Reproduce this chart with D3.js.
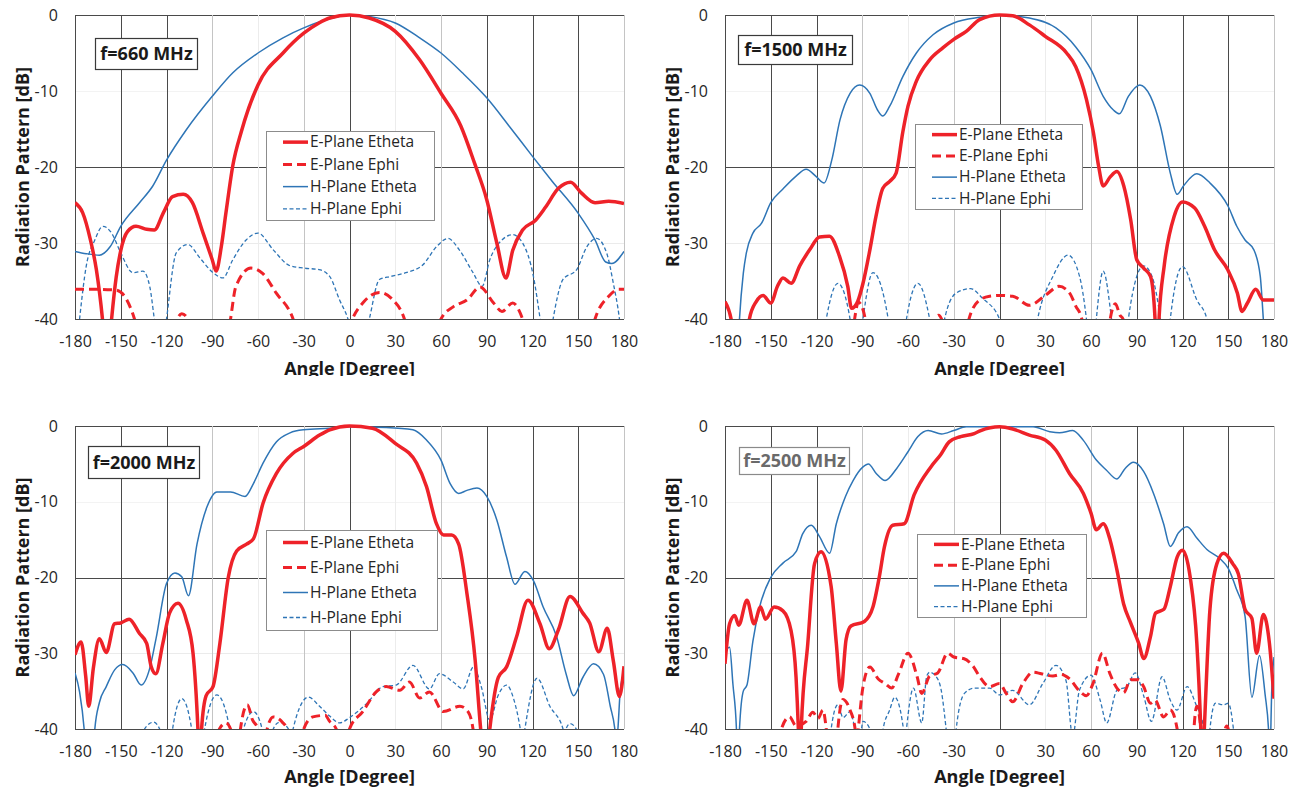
<!DOCTYPE html>
<html>
<head>
<meta charset="utf-8">
<script src="https://cdn.jsdelivr.net/npm/d3@7"></script>
<style>
  body { margin: 0; background: #fff; }
  svg { display: block; }
  text { font-family: "Open Sans", sans-serif; }
</style>
</head>
<body>
<svg id="chart" width="1297" height="790"></svg>
<script>
"use strict";

// [angle in degrees, level in dB]; values below -40 only mark where a curve leaves the plot
var eTheta660 = [[-180,-24.7],[-175,-26],[-170,-29.5],[-166,-33.5],[-162,-40],[-159,-47],[-156,-40],[-153,-34.5],[-150,-31],[-145.6,-28.5],[-140,-27.8],[-133,-28.2],[-128,-28.3],[-122,-26],[-116,-23.9],[-109,-23.6],[-103,-24.7],[-96,-28.7],[-90,-32.2],[-87.5,-33.7],[-84,-30.4],[-81,-26],[-76.5,-19.8],[-71,-15.4],[-60,-9.2],[-43.6,-5],[-30,-2.4],[-20,-1.05],[-13,-0.4],[0,0],[13,-0.4],[30,-2.15],[46,-5.9],[60,-10.3],[73,-14.6],[82,-19.5],[90,-24.3],[96.6,-30],[102.6,-34.6],[107,-31],[113.5,-28.3],[122,-27],[128.5,-25.3],[137,-22.8],[145,-22],[152,-23.4],[161,-24.7],[170,-24.5],[180,-24.8]];
var ePhi660 = [[-180,-36.1],[-165,-36.1],[-153,-36.2],[-146,-37.5],[-141,-40],[-135,-45],[-120,-45],[-113,-40],[-110,-39.3],[-106,-40],[-100,-45],[-82,-45],[-78,-40],[-74.5,-35.7],[-64.6,-33.3],[-57,-34],[-48,-36.6],[-37,-40],[-30,-45],[-5,-45],[2,-40],[8.7,-37.9],[19.6,-36.5],[28.5,-37.5],[36,-40],[42,-45],[54,-45],[60,-40],[68,-38.4],[77,-37.5],[85.6,-35.8],[94.5,-37.9],[100,-39],[107,-37.9],[113.5,-40],[120,-45],[155,-45],[161,-40],[170,-37],[176.6,-36.1],[180,-36.1]];
var hTheta660 = [[-180,-31.1],[-172.6,-31.4],[-164,-31.6],[-157,-30.5],[-150,-27.8],[-137.7,-24.7],[-129,-22.5],[-120,-19.1],[-107,-15.1],[-90,-10.7],[-76.5,-7.6],[-60,-5],[-43.6,-3],[-30,-1.7],[-13,-0.5],[0,0],[13,-0.2],[30,-1.05],[46,-3],[60,-5],[74,-7.6],[90,-10.9],[105,-14.7],[120,-18.6],[133,-21.9],[150,-26.1],[161,-29.6],[168,-32.5],[172,-32.7],[180,-31.1]];
var hPhi660 = [[-180,-46],[-177,-40],[-172.6,-33],[-167,-29.6],[-161.7,-27.8],[-156,-28.7],[-150,-31.3],[-142,-33.9],[-135.5,-33.7],[-131,-35.7],[-128,-40],[-124,-46],[-120,-40],[-113.6,-31.3],[-106,-30.2],[-98,-32],[-89.5,-33.9],[-83,-34.6],[-76.5,-32.2],[-67.8,-29.6],[-60,-28.7],[-50,-30.9],[-39,-33],[-30,-33.3],[-20,-33.5],[-13,-34.4],[-6.5,-37.5],[-1,-40],[6,-46],[13,-40],[19.6,-34.8],[27,-34.4],[37,-33.9],[48,-32.9],[57,-30.5],[64.6,-29.4],[72,-30.9],[81,-33.9],[87,-35.7],[92,-32.2],[99,-29.8],[107,-28.9],[113.5,-30],[120.6,-34.4],[125,-40],[129,-46],[133.5,-40],[140,-34.8],[149,-33.5],[155.6,-30.5],[162,-29.4],[168.6,-31.3],[173,-35.3],[177,-40],[180,-46]];

var eTheta1500 = [[-180,-37.7],[-176,-40],[-172,-46],[-168,-46],[-164,-40],[-159.5,-37.7],[-155,-36.9],[-150,-37.9],[-145.6,-35.7],[-142,-34.6],[-136.6,-35.3],[-131,-33],[-124.5,-30.9],[-118,-29.2],[-111.5,-29.1],[-105,-31.7],[-99.5,-35.7],[-97,-38.6],[-93,-37.7],[-89.5,-35.3],[-85,-30.9],[-81,-26.5],[-76.5,-22.8],[-72,-21.9],[-67.8,-20.8],[-63.4,-15.4],[-60,-12],[-54.5,-8.7],[-45.8,-5.9],[-37,-4.3],[-30,-3.2],[-21.8,-2.15],[-13,-0.6],[0,0],[8.7,-0.1],[19.6,-1.3],[30,-2.8],[44,-5],[50,-6.8],[57,-11.1],[61.6,-15.5],[65,-19.9],[68,-22.5],[72.6,-21.3],[77,-20.6],[81.5,-22.5],[86,-26.9],[90,-32.2],[94.5,-33.3],[99,-34.4],[102,-40],[103.3,-46],[104.6,-40],[108,-33],[114.5,-26.5],[120,-24.6],[128,-25.4],[134.5,-27.8],[141,-30.9],[149.6,-33.5],[156,-36.6],[159,-39],[162.6,-37.9],[168,-36.1],[173,-37.5],[180,-37.5]];
var ePhi1500 = [[-180,-46],[-98,-46],[-95,-40],[-92.5,-37.8],[-88,-40],[-85,-46],[-45,-46],[-42,-40],[-40,-39.5],[-38,-40],[-35,-46],[-24,-46],[-20,-40],[-13,-37.5],[-6.5,-37],[0,-36.9],[8.7,-37],[19.6,-38.2],[30.6,-36.8],[39,-35.7],[46,-36.6],[50,-38.3],[54,-40],[58,-46],[70,-46],[72.6,-40],[76,-38],[79,-39.5],[81,-40],[84,-46],[180,-46]];
var hTheta1500 = [[-180,-46],[-172,-46],[-170.5,-40],[-168,-34],[-166,-31.3],[-161.7,-28.7],[-156,-27.4],[-150,-24.7],[-142,-22.9],[-133.4,-21.2],[-126.8,-20.3],[-120,-21.3],[-115,-22.1],[-110,-19.1],[-104.6,-13.8],[-98,-10.3],[-91.7,-9.2],[-85,-10.3],[-80,-12.5],[-76.5,-13.3],[-72,-12],[-63.4,-8.1],[-54.5,-5],[-43.6,-2.6],[-30,-1.05],[-13,-0.3],[0,0],[19.6,-0.4],[37,-1.7],[50,-4.2],[60,-7.2],[68,-10.7],[74.7,-12.5],[78.6,-13],[84.5,-10.7],[92,-9.2],[99,-10.7],[105.5,-14.6],[112,-20.8],[116.5,-23.6],[120.6,-22.5],[129.4,-20.9],[138,-22.1],[150,-25.2],[155.6,-27.8],[161,-29.6],[166.8,-30.9],[171,-34.4],[173,-40],[175,-46],[180,-46]];
var hPhi1500 = [[-180,-46],[-118,-46],[-113.6,-40],[-106,-35.3],[-98,-40],[-94,-46],[-93,-46],[-89.5,-40],[-83,-33.9],[-73,-40],[-69,-46],[-65,-46],[-61,-40],[-53.5,-35.3],[-45.8,-40],[-41,-46],[-40,-46],[-36,-40],[-28.5,-36.6],[-19,-36],[-11,-37.3],[0,-40],[5,-46],[20,-46],[25,-40],[35,-34.4],[45,-31.6],[52.5,-34.4],[57,-40],[60,-46],[61,-46],[63.5,-40],[68,-33.7],[73.5,-40],[77,-46],[81,-46],[84.5,-40],[90,-34.4],[94.5,-33],[100,-34.4],[105.5,-40],[109,-46],[110,-46],[112,-40],[120,-33.1],[129.4,-37.5],[136,-40],[140,-46],[180,-46]];

var eTheta2000 = [[-180,-30.2],[-176,-28.5],[-173,-33],[-171,-37],[-168,-32],[-164,-28.1],[-159.5,-29.9],[-154,-26.1],[-150,-26],[-144.5,-25.5],[-137.7,-27.4],[-133,-28.7],[-130,-31.8],[-127,-32.7],[-122.4,-28.7],[-118,-24.7],[-112.5,-23.4],[-107,-25.6],[-102.6,-30],[-99.4,-40],[-98.2,-46],[-97,-40],[-94,-35.6],[-89.5,-34.4],[-85,-28.7],[-79.5,-20],[-74,-16.5],[-67.5,-15.6],[-63,-14.9],[-56.7,-10.2],[-48,-6.3],[-37,-3.6],[-30,-2.7],[-19.6,-1.2],[-13,-0.5],[0,0],[15,-0.3],[30,-2.3],[44,-4.9],[50.5,-8],[57,-12.9],[61.7,-14.4],[67,-14.4],[71.6,-15.6],[77,-22.1],[82.4,-30.9],[86,-40],[89,-46],[92,-40],[97.6,-33.2],[103,-31.8],[109.6,-27.8],[117,-23],[124.9,-26.1],[131,-29.4],[137,-26.9],[144.6,-22.5],[153,-24.7],[157.5,-26],[163.5,-29.8],[169,-26.7],[173,-31],[177,-35.7],[180,-31.7]];
var ePhi2000 = [[-180,-46],[-88,-46],[-85.3,-40],[-81,-39.2],[-78,-40],[-75,-46],[-74,-46],[-71.5,-40],[-67,-36.8],[-63.6,-38.8],[-60,-40],[-57,-46],[-56,-46],[-54,-40],[-50,-38.4],[-44,-39.1],[-41,-40],[-38,-46],[-33,-46],[-30,-40],[-24,-38.4],[-16,-38.2],[-13,-39],[-8.7,-40],[-5,-46],[-3,-46],[0,-40],[8.7,-37.7],[17.5,-35.1],[24,-34.4],[33,-34.9],[39.3,-33.8],[46,-35.9],[52.4,-35.1],[61.4,-37.7],[72.4,-37],[78,-37.8],[81,-40],[84,-46],[180,-46]];
var hTheta2000 = [[-180,-32.6],[-177,-35.1],[-174,-40],[-172,-46],[-169,-46],[-167,-40],[-164,-36.5],[-159.5,-34.4],[-154,-32.2],[-148.7,-31.5],[-142,-32.6],[-136.6,-34.2],[-131,-32],[-126.8,-28],[-120,-20.8],[-114.5,-19.4],[-110,-19.9],[-105.6,-22.4],[-100,-15.6],[-93.5,-10.7],[-87,-8.7],[-78,-8.7],[-68.5,-9.3],[-63,-7.6],[-56.7,-4.9],[-48,-2.1],[-39,-0.9],[-30,-0.5],[-13,-0.3],[0,-0.1],[24,-0.2],[41.6,-0.5],[50.5,-1.85],[60,-4.5],[66,-7.6],[71.6,-8.9],[77,-8.5],[83.6,-8.2],[90,-9.3],[96.6,-12.4],[103,-17.3],[108.5,-20.9],[115,-19.2],[120.6,-20.4],[127,-23.9],[135.8,-27.8],[142,-32.7],[147,-35.6],[153,-33.2],[160,-31.4],[166.6,-32.8],[171,-37],[174,-40],[175,-42],[176,-40],[177.6,-34.8],[180,-32.6]];
var hPhi2000 = [[-180,-46],[-137,-46],[-134.4,-40],[-128.5,-39.1],[-124.5,-40],[-121,-46],[-119,-46],[-116,-40],[-110,-36],[-103.5,-40],[-100,-46],[-98,-46],[-95,-40],[-87,-35.5],[-78.5,-40],[-75,-46],[-73,-46],[-69.5,-40],[-63,-37.7],[-57.3,-40],[-54,-46],[-53,-46],[-50,-40],[-46,-39.1],[-40,-40],[-38,-42],[-37,-40],[-27,-35.8],[-19.6,-37],[-13,-38.3],[-6.5,-39.2],[0,-38.5],[11,-36.7],[22,-34.4],[30.6,-34.2],[41.6,-31.6],[52.4,-34.7],[59,-32.7],[68,-33.8],[74.6,-34.7],[81.3,-31.8],[86.4,-34.4],[92,-38.8],[97.6,-35.5],[103,-34.2],[107.6,-36],[112,-40],[113.5,-42],[115,-40],[123,-33.3],[131.4,-37],[140,-40],[141,-41],[142,-40],[144.6,-39.3],[148.7,-40],[152,-46],[180,-46]];

var eTheta2500 = [[-180,-31.4],[-177,-26.1],[-173.6,-25],[-171,-26.3],[-165.6,-23],[-161,-26.1],[-156.7,-23.9],[-153.4,-25.5],[-147.8,-23.9],[-142,-24.4],[-136.7,-27],[-133.4,-33.2],[-131.9,-40],[-131,-46],[-130,-40],[-125.7,-28.7],[-121.3,-18.2],[-117,-16.6],[-110.4,-21.2],[-107,-28.7],[-104,-35],[-100.6,-28.2],[-97.4,-26.4],[-88.6,-25.8],[-83,-23.9],[-78.8,-19.9],[-75.5,-16],[-70,-13.1],[-62.5,-12.9],[-56,-9.1],[-45,-5.4],[-38.6,-3.8],[-33,-2.1],[-25.5,-1.4],[-16.6,-1],[-12.3,-0.6],[0,-0.1],[8.7,-0.4],[19.6,-1.2],[30,-1.85],[37,-3.2],[46,-6.3],[55,-8.9],[60,-11.5],[63.5,-13.7],[68,-12.9],[72.6,-15.1],[77,-19],[81.4,-23.5],[85.8,-25.9],[91.3,-28.7],[94.6,-30.7],[99,-27.8],[102.3,-24.7],[107.8,-24.2],[112,-21.2],[116.5,-17.3],[120,-16.4],[125,-19.9],[129.4,-28.7],[132,-40],[133,-46],[134.3,-40],[138,-24.2],[142.5,-18.2],[147,-16.8],[153,-18.2],[156.6,-19.5],[161,-24.2],[165.5,-25.4],[168.6,-30],[173,-24.9],[177,-28.7],[180,-36]];
var ePhi2500 = [[-180,-46],[-147,-46],[-143,-40],[-137.7,-38.4],[-133.4,-39.6],[-126.8,-39],[-122.4,-37.8],[-119,-38.6],[-115.8,-37.5],[-113.6,-40],[-111,-46],[-108,-46],[-106,-40],[-102.6,-36.1],[-98,-37.5],[-94.7,-40],[-93.6,-42],[-92.6,-40],[-89.5,-34.4],[-85,-31.8],[-79.5,-33.4],[-75,-34],[-70.7,-34.6],[-66.3,-32.8],[-60,-30],[-54,-33.1],[-51,-35.3],[-45.8,-33],[-40.5,-32.6],[-34,-30],[-30,-30.5],[-23.6,-30.7],[-17,-31.8],[-13,-33.1],[-6.5,-34.4],[0,-34],[4.4,-35.3],[8.7,-36.4],[15.3,-34],[22,-32.5],[27.4,-32.7],[35,-33],[40.5,-32.8],[46,-33.4],[52.5,-35],[57,-35.6],[61.3,-34],[67.5,-30],[72.4,-32.7],[77,-34.6],[81.4,-35.2],[86,-33.5],[91,-33.5],[94.5,-34.4],[99,-36.6],[102,-36.2],[107.6,-38.4],[112,-37.5],[116.5,-40],[119,-46],[126,-46],[127.5,-40],[129.4,-37],[132,-40],[134,-46],[147,-46],[148,-40],[149,-39.6],[150,-40],[152,-46],[180,-46]];
var hTheta2500 = [[-180,-29.6],[-177,-29.2],[-174.8,-34.1],[-172.5,-40],[-171.5,-46],[-170.5,-40],[-168,-35],[-165.6,-34.2],[-161.7,-28.4],[-157.3,-23.9],[-150,-20],[-142,-18.1],[-133.4,-16.6],[-129,-14.2],[-123.4,-13.1],[-118,-14.6],[-111.4,-16.8],[-107,-12.9],[-101,-9.3],[-96,-7.2],[-89.5,-5.4],[-86,-5],[-80.7,-6.3],[-75,-7.2],[-67.4,-5.6],[-60,-3.4],[-53.5,-1.4],[-46.8,-0.6],[-38,-1.05],[-30,-0.6],[-21.8,-0.1],[-13,-0.1],[0,-0.1],[22,-0.1],[33,-0.75],[39.4,-0.9],[48,-0.6],[55,-1.9],[63.5,-4.5],[70,-5.8],[77,-7],[82.4,-5.6],[87.8,-4.8],[94.5,-6],[101,-8.9],[107.6,-12.9],[112,-15.9],[117.4,-14.1],[123,-13.3],[129.4,-14.8],[136,-16.3],[144.5,-17.5],[150,-18.8],[155.5,-21.6],[161,-25.1],[165.5,-35.8],[170.5,-30.3],[174.2,-35.5],[176.4,-40],[177.3,-44],[178.5,-35],[180,-30.5]];
var hPhi2500 = [[-180,-46],[-113,-46],[-110.4,-40],[-106,-36.8],[-102.6,-38.5],[-98,-37.7],[-94.7,-40],[-92,-42],[-89.5,-39],[-85,-40],[-82,-46],[-79,-46],[-76.3,-40],[-72,-37.5],[-68.7,-35.8],[-63,-40],[-62,-42],[-61,-40],[-56.4,-34.6],[-51,-39.2],[-47.7,-33],[-45.8,-32.5],[-41.5,-33.1],[-38.2,-34.9],[-35,-40],[-32,-46],[-31,-46],[-28.4,-40],[-23,-35.3],[-16.4,-34.6],[-13,-34.6],[-6.5,-34.6],[0,-35.5],[8.7,-34.9],[19.6,-36.8],[28.4,-34],[37,-31.6],[43.6,-33.6],[48,-41],[52.4,-34.9],[60,-32.9],[66,-36.2],[70.3,-39.2],[77,-34.9],[83.5,-34.4],[89,-32.6],[94.5,-35.6],[99.6,-39],[106.6,-33.1],[112,-36.2],[116.4,-37.5],[123,-34.4],[128.5,-36.6],[134,-40],[136,-46],[138,-40],[141.6,-36.6],[147,-36.8],[150,-36.6],[153.4,-40],[156,-46],[180,-46]];

var angleTicks = [-180, -150, -120, -90, -60, -30, 0, 30, 60, 90, 120, 150, 180];
var dbTicks = [0, -10, -20, -30, -40];
var seriesNames = ["E-Plane Etheta", "E-Plane Ephi", "H-Plane Etheta", "H-Plane Ephi"];
var freqLabels = ["f=660 MHz", "f=1500 MHz", "f=2000 MHz", "f=2500 MHz"];

var RED = "#ee2229", BLUE = "#2e75b6";
var seriesStyle = [
  { color: RED, width: 3.5, dash: null },
  { color: RED, width: 3, dash: "9,5" },
  { color: BLUE, width: 1.5, dash: null },
  { color: BLUE, width: 1.3, dash: "4,2.5" }
];

// panel layout in page pixels
var panels = [
  { label: freqLabels[0], series: [eTheta660, ePhi660, hTheta660, hPhi660],
    x0: 75, x1: 624, y0: 15, y1: 319, box: [95, 38, 102, 31], legend: [266, 131, 168, 89], xTitleY: 375, faded: false },
  { label: freqLabels[1], series: [eTheta1500, ePhi1500, hTheta1500, hPhi1500],
    x0: 725, x1: 1274, y0: 15, y1: 319, box: [738, 35, 114, 29], legend: [915, 124, 167, 85], xTitleY: 375, faded: false },
  { label: freqLabels[2], series: [eTheta2000, ePhi2000, hTheta2000, hPhi2000],
    x0: 75, x1: 624, y0: 426, y1: 729, box: [88, 446, 111, 32], legend: [266, 530, 171, 100], xTitleY: 783, faded: false },
  { label: freqLabels[3], series: [eTheta2500, ePhi2500, hTheta2500, hPhi2500],
    x0: 725, x1: 1274, y0: 426, y1: 729, box: [739, 447, 110, 27], legend: [917, 534, 169, 83], xTitleY: 783, faded: true }
];

// scan-like gridline weights of the original figure
var darkAngles = [-150, -120, 0, 90, 120, 150];
var lightAngles = [-90, -30, 60, 180];

// plain hyphen-minus like the original, not d3's U+2212
function plainNumber(d) { return String(d); }

var svg = d3.select("#chart");
var defs = svg.append("defs");

// the top row's x-axis title is cut off in the original
defs.append("clipPath").attr("id", "topRow")
  .append("rect").attr("x", 0).attr("y", 0).attr("width", 1297).attr("height", 376);

panels.forEach(function(p, pi) {
  var x = d3.scaleLinear().domain([-180, 180]).range([p.x0, p.x1]);
  var y = d3.scaleLinear().domain([-40, 0]).range([p.y1, p.y0]);

  var g = svg.append("g");
  if (p.y0 < 100) g.attr("clip-path", "url(#topRow)");

  // gridlines
  var grid = g.append("g");
  dbTicks.forEach(function(d) {
    var col = (d === 0 || d === -20 || d === -40) ? "#4a4a4a" : (d === -10 ? "#f3f3f3" : "#ebebeb");
    grid.append("line")
      .attr("x1", p.x0).attr("x2", p.x1)
      .attr("y1", Math.round(y(d)) + 0.5).attr("y2", Math.round(y(d)) + 0.5)
      .attr("stroke", col).attr("stroke-width", 1);
  });
  angleTicks.forEach(function(a) {
    var col = "#ececec";
    if (a === -180 || darkAngles.indexOf(a) >= 0) col = "#4a4a4a";
    else if (lightAngles.indexOf(a) >= 0) col = "#c4c4c4";
    grid.append("line")
      .attr("x1", Math.round(x(a)) + 0.5).attr("x2", Math.round(x(a)) + 0.5)
      .attr("y1", p.y0).attr("y2", p.y1)
      .attr("stroke", col).attr("stroke-width", 1);
  });

  // axes (labels only)
  var xAxis = g.append("g")
    .attr("transform", "translate(0," + p.y1 + ")")
    .call(d3.axisBottom(x).tickValues(angleTicks).tickSize(0).tickPadding(16.5).tickFormat(plainNumber));
  var yAxis = g.append("g")
    .attr("transform", "translate(" + p.x0 + ",0)")
    .call(d3.axisLeft(y).tickValues(dbTicks).tickSize(0).tickPadding(17).tickFormat(plainNumber));
  [xAxis, yAxis].forEach(function(ax) {
    ax.select(".domain").remove();
    ax.selectAll("text")
      .attr("font-family", "'Open Sans', sans-serif")
      .attr("font-size", 16)
      .attr("fill", "#262626");
  });

  g.append("text")
    .attr("x", (p.x0 + p.x1) / 2)
    .attr("y", p.xTitleY)
    .attr("text-anchor", "middle")
    .attr("font-size", 18)
    .attr("font-weight", "bold")
    .attr("fill", "#1a1a1a")
    .text("Angle [Degree]");

  g.append("text")
    .attr("transform", "translate(" + (p.x0 - 46.5) + "," + ((p.y0 + p.y1) / 2) + ") rotate(-90)")
    .attr("text-anchor", "middle")
    .attr("font-size", 18)
    .attr("font-weight", "bold")
    .attr("fill", "#1a1a1a")
    .text("Radiation Pattern [dB]");

  // curves
  var clipId = "plot" + pi;
  defs.append("clipPath").attr("id", clipId)
    .append("rect")
    .attr("x", p.x0).attr("y", p.y0 - 2)
    .attr("width", p.x1 - p.x0).attr("height", p.y1 - p.y0 + 2);

  var line = d3.line()
    .curve(d3.curveMonotoneX)
    .x(function(d) { return x(d[0]); })
    .y(function(d) { return y(d[1]); });

  var curves = g.append("g").attr("clip-path", "url(#" + clipId + ")");
  // draw H-plane first so the thick E-plane curves sit on top
  [3, 2, 1, 0].forEach(function(si) {
    var st = seriesStyle[si];
    curves.append("path")
      .datum(p.series[si])
      .attr("d", line)
      .attr("fill", "none")
      .attr("stroke", st.color)
      .attr("stroke-width", st.width)
      .attr("stroke-dasharray", st.dash)
      .attr("stroke-linejoin", "round");
  });

  // frequency label box
  var b = p.box;
  g.append("rect")
    .attr("x", b[0] + 0.5).attr("y", b[1] + 0.5)
    .attr("width", b[2]).attr("height", b[3])
    .attr("fill", "#fff")
    .attr("stroke", p.faded ? "#8a8a8a" : "#3a3a3a")
    .attr("stroke-width", 1.2);
  g.append("text")
    .attr("x", b[0] + b[2] / 2 + 0.5)
    .attr("y", b[1] + b[3] / 2 + 6.5)
    .attr("text-anchor", "middle")
    .attr("font-size", 18)
    .attr("font-weight", "bold")
    .attr("fill", p.faded ? "#6a6a6a" : "#1a1a1a")
    .text(p.label);

  // legend
  var L = p.legend;
  var leg = g.append("g");
  leg.append("rect")
    .attr("x", L[0] + 0.5).attr("y", L[1] + 0.5)
    .attr("width", L[2]).attr("height", L[3])
    .attr("fill", "#fff")
    .attr("stroke", "#8c8c8c")
    .attr("stroke-width", 1);
  seriesNames.forEach(function(name, si) {
    var st = seriesStyle[si];
    var ry = L[1] + L[3] * (si + 0.5) / 4;
    leg.append("line")
      .attr("x1", L[0] + 17).attr("x2", L[0] + 42)
      .attr("y1", ry).attr("y2", ry)
      .attr("stroke", st.color)
      .attr("stroke-width", st.width)
      .attr("stroke-dasharray", st.dash);
    leg.append("text")
      .attr("x", L[0] + 44)
      .attr("y", ry + 5.3)
      .attr("font-size", 15.5)
      .attr("fill", "#262626")
      .text(name);
  });
});
</script>
</body>
</html>
